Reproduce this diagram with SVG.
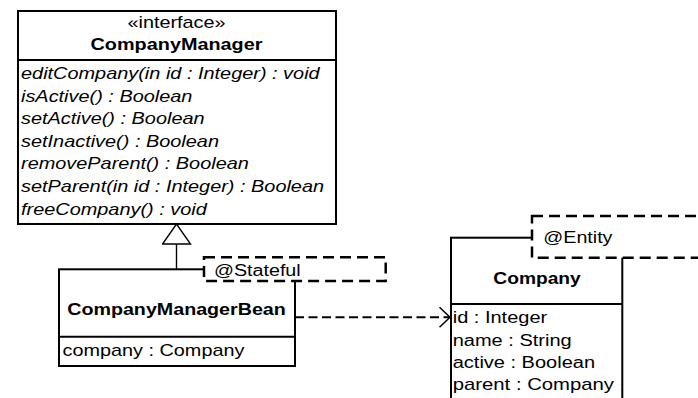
<svg xmlns="http://www.w3.org/2000/svg" width="698" height="398" viewBox="0 0 698 398">
<style>
  .box { fill: #ffffff; stroke: #000000; stroke-width: 2; }
  .ln { fill: none; stroke: #000000; stroke-width: 2; }
  .note { fill: #ffffff; stroke: #000000; stroke-width: 2.5; stroke-dasharray: 11 6; }
  .t { font-family: "Liberation Sans", Arial, sans-serif; font-size: 16px; fill: #000000; }
  .b { font-weight: bold; }
  .i { font-style: italic; }
  .c { text-anchor: middle; }
  .dep { fill: none; stroke: #000000; stroke-width: 2; stroke-dasharray: 9 4.5; }
  .gen { fill: none; stroke: #000000; stroke-width: 1.4; }
</style>
<defs>
  <marker id="open" markerUnits="userSpaceOnUse" viewBox="0 0 13 22" markerWidth="13" markerHeight="22" refX="11.5" refY="11" orient="auto">
    <path d="M1,1 L11.5,11 L1,21" fill="none" stroke="#000" stroke-width="1.5"/>
  </marker>
  <marker id="tri" markerUnits="userSpaceOnUse" viewBox="0 0 22 30" markerWidth="22" markerHeight="30" refX="21" refY="15" orient="auto">
    <path d="M1,1 L21,15 L1,29 Z" fill="#fff" stroke="#000" stroke-width="1.4"/>
  </marker>
</defs>
<rect width="698" height="398" fill="#ffffff"/>

<g id="connectors">
  <path class="gen" d="M176.5,269.3 L176.5,224" marker-end="url(#tri)"/>
  <path class="dep" d="M295,317.3 L450,317.3" marker-end="url(#open)"/>
</g>

<g id="CompanyManager">
  <rect class="box" x="18" y="11" width="318" height="213"/>
  <path class="ln" d="M18,60 L336,60"/>
  <text class="t c" transform="translate(176.5 28) scale(1.24 1)">«interface»</text>
  <text class="t b c" transform="translate(176.5 50) scale(1.24 1)">CompanyManager</text>
  <text class="t i" transform="translate(21 79) scale(1.245 1)">editCompany(in id : Integer) : void</text>
  <text class="t i" transform="translate(21 101.6) scale(1.245 1)">isActive() : Boolean</text>
  <text class="t i" transform="translate(21 124.2) scale(1.245 1)">setActive() : Boolean</text>
  <text class="t i" transform="translate(21 146.8) scale(1.245 1)">setInactive() : Boolean</text>
  <text class="t i" transform="translate(21 169.4) scale(1.245 1)">removeParent() : Boolean</text>
  <text class="t i" transform="translate(21 192) scale(1.245 1)">setParent(in id : Integer) : Boolean</text>
  <text class="t i" transform="translate(21 214.6) scale(1.245 1)">freeCompany() : void</text>
</g>

<g id="CompanyManagerBean">
  <rect class="box" x="59" y="269.3" width="236" height="96.7"/>
  <path class="ln" d="M59,336.7 L295,336.7"/>
  <text class="t b c" transform="translate(176.5 315) scale(1.23 1)">CompanyManagerBean</text>
  <text class="t" transform="translate(62.5 355.5) scale(1.24 1)">company : Company</text>
</g>

<g id="StatefulNote">
  <rect class="note" x="204" y="257.3" width="181.7" height="23.7"/>
  <text class="t" transform="translate(214 275.5) scale(1.23 1)">@Stateful</text>
</g>

<g id="Company">
  <rect class="box" x="451" y="237.7" width="171.3" height="170"/>
  <path class="ln" d="M451,304 L622.3,304"/>
  <text class="t b c" transform="translate(537 284) scale(1.2 1)">Company</text>
  <text class="t" transform="translate(452.7 323.3) scale(1.25 1)">id : Integer</text>
  <text class="t" transform="translate(452.7 345.5) scale(1.25 1)">name : String</text>
  <text class="t" transform="translate(452.7 367.7) scale(1.25 1)">active : Boolean</text>
  <text class="t" transform="translate(452.7 390) scale(1.27 1)">parent : Company</text>
</g>

<g id="EntityNote">
  <rect class="note" x="532" y="216" width="200" height="41.7"/>
  <text class="t" transform="translate(543.3 243.3) scale(1.23 1)">@Entity</text>
</g>
</svg>
